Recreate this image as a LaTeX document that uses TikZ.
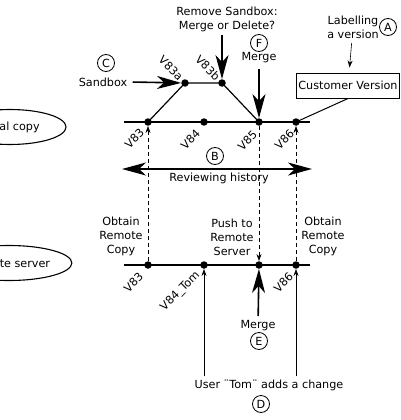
\documentclass[tikz,border=0pt]{standalone}
\usepackage{fontspec}
\setmainfont{DejaVu Sans}
\usetikzlibrary{arrows.meta,shapes.geometric}
\begin{document}
\begin{tikzpicture}[x=1pt,y=-1pt,
  font=\fontsize{11.2}{14}\selectfont,
  dot/.style={circle,fill,inner sep=0pt,minimum size=7.5pt},
  lbl/.style={circle,draw,line width=0.8pt,inner sep=0pt,minimum size=17pt},
  main/.style={line width=1.2pt},
  big/.style={line width=1.6pt,-{Stealth[length=24pt,width=13pt,inset=7pt]}},
  thinarrow/.style={line width=0.6pt,-{Stealth[length=7pt,width=5pt]}},
  vdash/.style={dashed,dash pattern=on 4pt off 3pt,line width=0.6pt,-{Stealth[length=7pt,width=5pt]}},
  vup/.style={rotate=45,anchor=east,inner sep=1pt},
  vdown/.style={rotate=-45,anchor=east,inner sep=1pt},
  oval/.style={ellipse,draw,line width=1.1pt,minimum width=112pt,minimum height=35pt}
]
\useasboundingbox (0,0) rectangle (400,420);

% left ellipses (cut by the border)
\node[oval] (loc) at (10,127) {Local copy};
\node[oval] (rem) at (9,263) {Remote server};

% top line
\coordinate (tl) at (124,122);
\coordinate (tr) at (310,122);
\draw[main] (tl) -- (tr);
\node[dot] (t83) at (148,122) {};
\node[dot] (t84) at (204,122) {};
\node[dot] (t85) at (259,122) {};
\node[dot] (t86) at (296,122) {};
\node[dot] (s1) at (185,83) {};
\node[dot] (s2) at (222,83) {};
\draw[main] (t83.center) -- (s1.center) -- (s2.center) -- (t85.center);

\node[vup] at (143,130) {V83};
\node[vup] at (199,131) {V84};
\node[vup] at (256,132) {V85};
\node[vup] at (293,131) {V86};
\node[vdown] at (182,79) {V83a};
\node[vdown] at (219,79) {V83b};

% bottom line
\coordinate (bl) at (124,265);
\coordinate (br) at (310,265);
\draw[main] (bl) -- (br);
\node[dot] (b83) at (148,265) {};
\node[dot] (b84) at (204,265) {};
\node[dot] (b85) at (259,265) {};
\node[dot] (b86) at (296,265) {};

\node[vup] at (142,274) {V83};
\node[vup] at (199,273) {V84\_Tom};
\node[vup] at (292,274) {V86};

% dashed transfers
\draw[vdash] (b83) -- (t83);
\draw[vdash] (t85) -- (b85);
\draw[vdash] (b86) -- (t86);

% sandbox
\node[lbl] (C) at (106,63) {C};
\node (sand) at (103,82) {Sandbox};
\draw[big,shorten <=2pt] (sand.east) -- (s1);

% remove sandbox
\node[align=center] (rm) at (227,19) {Remove Sandbox:\\Merge or Delete?};
\draw[big] (rm.south -| s2) -- (s2);

% merge F
\node[lbl] (F) at (259,43) {F};
\node (m1) at (259,58) {Merge};
\draw[big,shorten <=2pt] (m1) -- (t85);

% customer version
\node[draw,line width=1pt,minimum width=102pt,minimum height=25pt,inner sep=2pt] (cv) at (348,85.5) {Customer Version};
\draw[line width=1pt] (cv.south) -- (t86.center);
\node[align=center] (lab) at (353,27) {Labelling\\a version};
\node[lbl] (A) at (388,27) {A};
\draw[thinarrow,shorten <=1pt,shorten >=5pt] (lab) -- (cv);

% reviewing history
\node[lbl] (B) at (215,156) {B};
\coordinate (hl) at (122,169);
\coordinate (hr) at (312,169);
\draw[main,{Stealth[length=24pt,width=13pt,inset=7pt]}-{Stealth[length=24pt,width=13pt,inset=7pt]}] (hl) -- (hr);
\node (rh) at (219,178) {Reviewing history};

% transfer labels
\node[align=center] (o1) at (121,236) {Obtain\\Remote\\Copy};
\node[align=center] (o2) at (323,236) {Obtain\\Remote\\Copy};
\node[align=center] (ps) at (232,237) {Push to\\Remote\\Server};

% merge E
\node (m2) at (258,326) {Merge};
\node[lbl] (E) at (259,341) {E};
\draw[big,shorten <=1pt] (m2) -- (b85);

% user Tom
\node (user) at (269,385) {User ¨Tom¨ adds a change};
\node[lbl] (D) at (261,404) {D};
\draw[thinarrow] (user.north -| b84) -- (b84);
\draw[thinarrow] (user.north -| b86) -- (b86);
\end{tikzpicture}
\end{document}
